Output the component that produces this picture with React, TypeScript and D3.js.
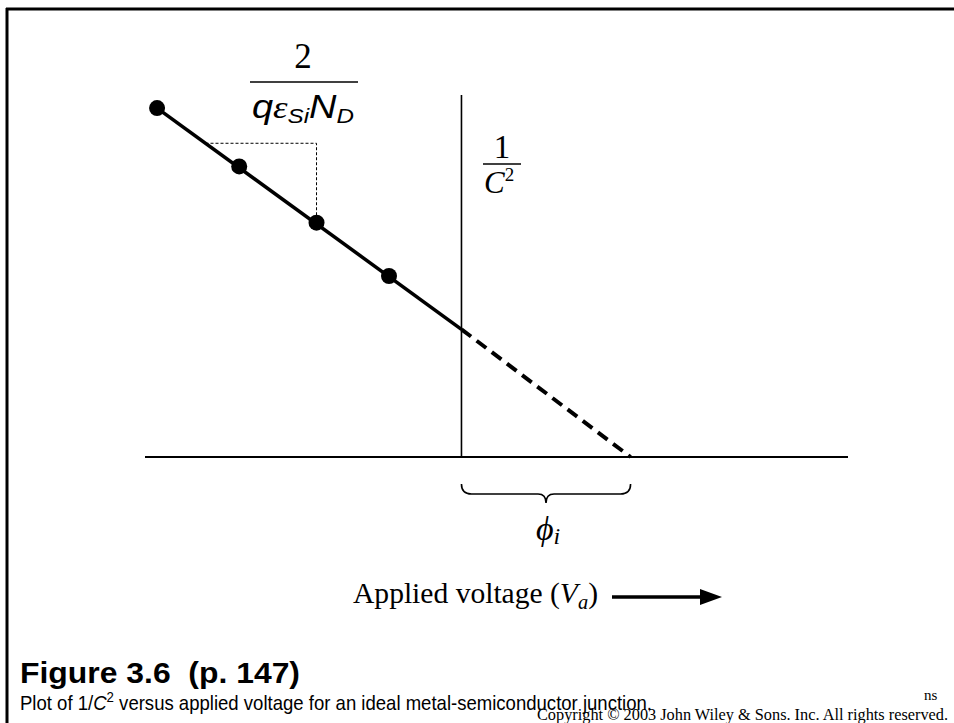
import React from "react";
import * as d3 from "d3";

// Data (applied voltage in V, 1/C^2 in arbitrary units)
const pointVa = [-1.26, -0.92, -0.6, -0.3];
const pointInvC2 = [3.47, 2.89, 2.33, 1.8];
const solidVa = [-1.26, 0];
const solidInvC2 = [3.47, 1.27];
const dashVa = [0, 0.7];
const dashInvC2 = [1.27, 0];
const phiI = 0.7;
const slopeY = 3.12;
const slopeEndVa = -0.6;
const xDomain = [-1.31, 1.6];
const yDomain = [0, 3.6];

const W = 954;
const H = 723;

export default function App() {
  const x = d3.scaleLinear().domain(xDomain).range([145, 848]);
  const y = d3.scaleLinear().domain(yDomain).range([457, 95]);
  const line = d3
    .line<[number, number]>()
    .x((d) => x(d[0]))
    .y((d) => y(d[1]));
  const solid = solidVa.map((v, i) => [v, solidInvC2[i]] as [number, number]);
  const dashed = dashVa.map((v, i) => [v, dashInvC2[i]] as [number, number]);

  const slope = (solidInvC2[1] - solidInvC2[0]) / (solidVa[1] - solidVa[0]);
  const vaAtSlopeY = solidVa[0] + (slopeY - solidInvC2[0]) / slope;
  const thirdY = pointInvC2[2];

  const bx0 = x(0);
  const bx1 = x(phiI);
  const bm = (bx0 + bx1) / 2;
  const by0 = 484;
  const by1 = 494;
  const by2 = 503;
  const brace = `M${bx0},${by0} Q${bx0},${by1} ${bx0 + 10},${by1} L${bm - 8},${by1} Q${bm},${by1} ${bm},${by2} Q${bm},${by1} ${bm + 8},${by1} L${bx1 - 10},${by1} Q${bx1},${by1} ${bx1},${by0}`;

  const serif = "'Liberation Serif', 'Times New Roman', serif";
  const sans = "'Liberation Sans', Arial, sans-serif";

  return (
    <svg
      width={W}
      height={H}
      style={{ position: "absolute", left: 0, top: 0, background: "#fff" }}
    >
      <line x1={6} y1={9} x2={W} y2={9} stroke="#000" strokeWidth={3} />
      <line x1={7} y1={8} x2={7} y2={H} stroke="#000" strokeWidth={3} />

      <line x1={x(xDomain[0])} y1={y(0)} x2={x(xDomain[1])} y2={y(0)} stroke="#000" strokeWidth={2} />
      <line x1={x(0)} y1={y(yDomain[1])} x2={x(0)} y2={y(0)} stroke="#000" strokeWidth={1.6} />

      <path
        d={`M${x(vaAtSlopeY)},${y(slopeY)} L${x(slopeEndVa)},${y(slopeY)} L${x(slopeEndVa)},${y(thirdY)}`}
        fill="none"
        stroke="#000"
        strokeWidth={1}
        strokeDasharray="3,2"
      />

      <path d={line(solid) || ""} fill="none" stroke="#000" strokeWidth={3.5} />
      <path d={line(dashed) || ""} fill="none" stroke="#000" strokeWidth={4} strokeDasharray="12,7" />

      {pointVa.map((v, i) => (
        <circle key={i} cx={x(v)} cy={y(pointInvC2[i])} r={8} fill="#000" />
      ))}

      <text x={303} y={68} textAnchor="middle" fontFamily={serif} fontSize={35}>2</text>
      <line x1={250} y1={82} x2={358} y2={82} stroke="#000" strokeWidth={1.5} />
      <text x={252} y={118} fontFamily={sans} fontSize={33} fontStyle="italic" textLength={102} lengthAdjust="spacingAndGlyphs">
        <tspan>q</tspan>
        <tspan fontFamily={serif} fontSize={32}>ε</tspan>
        <tspan fontSize={21} dy={5}>Si</tspan>
        <tspan dy={-5} fontSize={33}>N</tspan>
        <tspan fontSize={21} dy={5}>D</tspan>
      </text>

      <text x={502} y={158} textAnchor="middle" fontFamily={serif} fontSize={33}>1</text>
      <line x1={483} y1={164} x2={521} y2={164} stroke="#000" strokeWidth={1.3} />
      <text x={484} y={193} fontFamily={serif} fontSize={31} fontStyle="italic">
        C<tspan fontStyle="normal" fontSize={19} dy={-12}>2</tspan>
      </text>

      <path d={brace} fill="none" stroke="#000" strokeWidth={1.6} />
      <text x={536} y={540} fontFamily={serif} fontSize={34} fontStyle="italic">
        ϕ<tspan fontSize={24} dy={4}>i</tspan>
      </text>

      <text x={353} y={603} fontFamily={serif} fontSize={29} textLength={245} lengthAdjust="spacingAndGlyphs">
        Applied voltage (<tspan fontStyle="italic">V</tspan>
        <tspan fontStyle="italic" fontSize={20} dy={6}>a</tspan>
        <tspan dy={-6}>)</tspan>
      </text>
      <line x1={612} y1={597} x2={704} y2={597} stroke="#000" strokeWidth={3.5} />
      <path d="M700,589 L722,597 L700,605 Z" fill="#000" />

      <text x={20} y={683} fontFamily={sans} fontSize={30} fontWeight="bold" textLength={280} lengthAdjust="spacingAndGlyphs" style={{ whiteSpace: "pre" }}>
        {"Figure 3.6  (p. 147)"}
      </text>
      <text x={20} y={710} fontFamily={sans} fontSize={21} textLength={632} lengthAdjust="spacingAndGlyphs">
        Plot of 1/<tspan fontStyle="italic">C</tspan>
        <tspan fontSize={15} dy={-8}>2</tspan>
        <tspan dy={8}> versus applied voltage for an ideal metal-semiconductor junction.</tspan>
      </text>
      <text x={924} y={700} fontFamily={serif} fontSize={15}>ns</text>
      <text x={537} y={720} fontFamily={serif} fontSize={16} textLength={411} lengthAdjust="spacingAndGlyphs">
        Copyright © 2003 John Wiley &amp; Sons. Inc. All rights reserved.
      </text>
    </svg>
  );
}
